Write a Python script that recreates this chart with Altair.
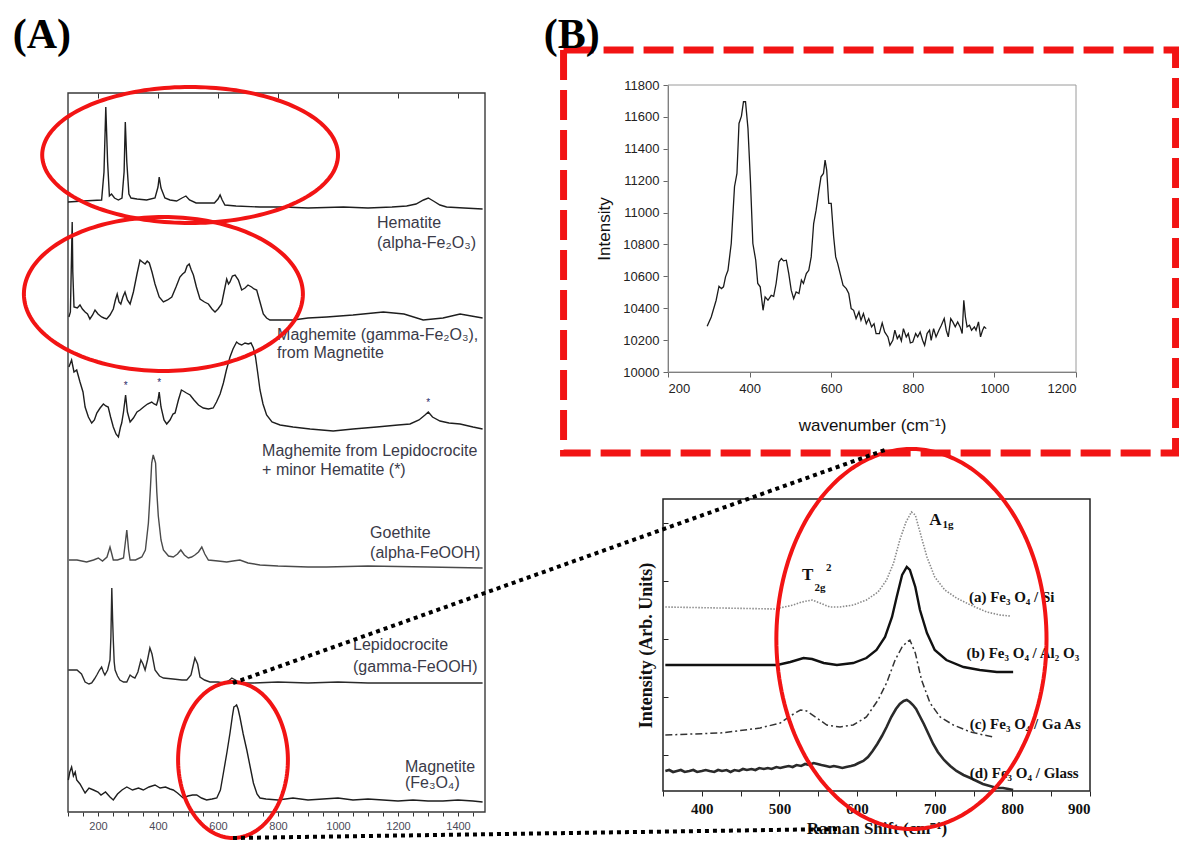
import altair as alt
import numpy as np
import pandas as pd

W, H = 1179, 841

# ---------------------------------------------------------------- data
# Panel (A): Raman shift (cm-1) vs stacked intensity (arbitrary units)
hem_wn = [100, 150, 212, 220, 226, 232, 238, 245, 255, 268, 280, 287, 291, 296, 303, 310, 330, 362, 390, 400,
          404, 410, 423, 440, 462, 480, 493, 505, 527, 560, 588, 600, 607, 614, 623, 660, 740, 820, 900, 1018,
          1100, 1180, 1229, 1260, 1285, 1301, 1318, 1340, 1362, 1420, 1482]
hem_y = [610, 611, 612, 640, 705, 650, 616, 618, 614, 612, 614, 640, 690, 650, 618, 614, 613, 612, 614, 625,
         635, 624, 614, 612, 611, 614, 616, 612, 609, 609, 609, 613, 617, 612, 607, 606, 605, 605, 604, 605,
         604, 605, 606, 608, 612, 614, 611, 607, 605, 604, 603]

mgm_wn = [103, 108, 112, 114, 116, 120, 131, 140, 148, 157, 165, 173, 182, 190, 200, 212, 220, 229, 240, 251,
          258, 264, 270, 276, 283, 290, 298, 307, 318, 330, 340, 348, 357, 364, 371, 380, 390, 404, 418, 432,
          446, 460, 473, 482, 490, 497, 504, 511, 518, 528, 540, 555, 568, 580, 590, 600, 612, 620, 629, 635,
          640, 648, 657, 668, 679, 690, 700, 712, 720, 729, 740, 751, 762, 773, 800, 851, 900, 962, 1050, 1151,
          1220, 1284, 1350, 1407, 1482]
mgm_y = [495, 500, 560, 590, 540, 505, 504, 507, 503, 500, 498, 493, 497, 502, 498, 495, 494, 493, 497, 503,
         512, 518, 510, 508, 515, 520, 512, 508, 520, 538, 552, 550, 548, 551, 549, 540, 528, 515, 510, 512,
         515, 525, 535, 538, 540, 546, 548, 542, 537, 525, 513, 510, 508, 503, 500, 503, 508, 520, 533, 528,
         530, 536, 537, 532, 522, 524, 527, 525, 523, 522, 510, 498, 494, 492, 492, 492, 494, 495, 497, 500,
         498, 492, 494, 498, 494]

mgl_wn = [103, 112, 120, 129, 140, 150, 157, 168, 179, 188, 196, 207, 218, 226, 234, 242, 251, 260, 268, 275,
          279, 285, 292, 298, 307, 318, 330, 340, 352, 365, 379, 387, 395, 400, 404, 410, 420, 429, 440, 450,
          457, 468, 478, 484, 495, 507, 520, 535, 551, 568, 584, 595, 607, 618, 628, 640, 650, 662, 670, 679,
          690, 701, 710, 718, 725, 732, 740, 750, 762, 780, 807, 850, 907, 984, 1050, 1129, 1200, 1240, 1270,
          1290, 1301, 1315, 1340, 1370, 1407, 1450, 1482]
mgl_y = [445, 452, 440, 442, 430, 420, 405, 395, 389, 392, 399, 404, 408, 406, 405, 395, 385, 378, 375, 385,
         389, 400, 417, 400, 390, 394, 400, 402, 405, 408, 410, 408, 407, 412, 420, 405, 392, 388, 392, 398,
         399, 412, 422, 421, 419, 417, 412, 407, 404, 403, 404, 410, 418, 429, 442, 455, 463, 470, 468, 467,
         469, 468, 469, 464, 455, 440, 422, 408, 397, 390, 387, 385, 383, 381, 383, 385, 387, 388, 392,
         397, 400, 395, 391, 389, 388, 385, 383]

goe_wn = [103, 130, 162, 185, 201, 215, 230, 240, 246, 251, 265, 285, 296, 302, 307, 325, 346, 358, 368, 374,
          379, 384, 389, 392, 396, 401, 410, 418, 435, 451, 465, 476, 488, 501, 512, 523, 535, 546, 556, 568,
          600, 629, 650, 673, 700, 740, 800, 900, 962, 1100, 1300, 1482]
goe_y = [252, 252, 250, 252, 254, 251, 255, 265, 258, 252, 252, 254, 282, 262, 252, 252, 255, 262, 289, 320,
         349, 357, 352, 349, 320, 296, 272, 262, 256, 255, 258, 262, 257, 254, 255, 257, 260, 265, 258, 252,
         251, 250, 251, 252, 249, 247, 246, 245, 245, 246, 245, 244]

lep_wn = [101, 130, 145, 157, 170, 179, 188, 196, 205, 212, 218, 223, 232, 240, 243, 246, 249, 251, 254, 257,
          265, 273, 285, 296, 307, 315, 323, 333, 343, 350, 357, 365, 373, 380, 390, 405, 418, 450, 480, 496,
          510, 523, 532, 540, 555, 573, 600, 618, 635, 646, 658, 673, 720, 800, 900, 1000, 1100, 1200, 1300,
          1400, 1482]
lep_y = [142, 142, 138, 130, 128, 129, 133, 137, 142, 145, 140, 137, 142, 152, 175, 224, 190, 172, 150, 142,
         136, 132, 130, 130, 137, 135, 134, 140, 152, 148, 142, 152, 164, 158, 142, 136, 134, 133, 132, 132,
         137, 154, 148, 135, 132, 130, 130, 129, 131, 134, 132, 129, 129, 130, 129, 130, 129, 129, 129,
         129, 129]

mag_wn = [101, 106, 112, 118, 124, 129, 140, 157, 170, 185, 200, 210, 225, 240, 251, 265, 280, 296, 315, 335,
          351, 370, 390, 407, 425, 440, 451, 465, 484, 500, 515, 529, 545, 562, 580, 596, 608, 618, 630, 640,
          648, 653, 658, 662, 667, 673, 684, 696, 708, 718, 730, 740, 760, 800, 850, 900, 950, 1000, 1050, 1100,
          1150, 1200, 1250, 1300, 1350, 1400, 1450, 1482]
mag_y = [32, 40, 45, 36, 40, 32, 28, 19, 24, 22, 20, 17, 20, 15, 12, 18, 22, 25, 22, 24,
         22, 25, 27, 24, 25, 23, 22, 19, 14, 16, 17, 17, 14, 12, 13, 14, 22, 39, 60, 79,
         96, 105, 106, 107, 103, 95, 78, 62, 44, 29, 18, 14, 13, 12, 14, 12, 13, 14, 12, 13,
         12, 11, 12, 11, 11, 12, 11, 10]

A_labels = [("Hematite", 1130, 589), ("(alpha-Fe\u2082O\u2083)", 1130, 569),
            ("Maghemite (gamma-Fe\u2082O\u2083),", 797, 477), ("from Magnetite", 797, 459),
            ("Maghemite from Lepidocrocite", 747, 361), ("+ minor Hematite (*)", 747, 342),
            ("Goethite", 1107, 279), ("(alpha-FeOOH)", 1107, 259),
            ("Lepidocrocite", 1050, 167), ("(gamma-FeOOH)", 1050, 145),
            ("Magnetite", 1223, 45), ("(Fe\u2083O\u2084)", 1223, 29)]
A_stars = [(292, 426), (404, 429), (1301, 409)]

# Panel (B) top: wavenumber vs intensity
bt_wn = [296, 306, 318, 325, 331, 336, 341, 347, 355, 363, 369, 374, 380, 385, 390, 396, 402, 408, 415, 420,
         426, 433, 438, 445, 453, 459, 465, 472, 478, 483, 490, 496, 502, 508, 514, 521, 527, 532, 539, 545,
         551, 557, 563, 570, 575, 581, 585, 589, 594, 600, 606, 611, 616, 622, 629, 637, 643, 649, 655, 661,
         668, 673, 679, 686, 692, 699, 705, 710, 718, 725, 731, 739, 744, 751, 756, 762, 767, 772, 777, 784,
         789, 794, 800, 807, 812, 818, 824, 829, 835, 841, 845, 851, 857, 864, 870, 877, 882, 887, 893, 898,
         904, 910, 916, 921, 925, 929, 933, 939, 944, 951, 955, 961, 966, 971, 975, 980]
bt_y = [10287, 10345, 10450, 10538, 10523, 10534, 10597, 10638, 10806, 11162, 11245, 11559, 11605, 11695,
        11695, 11528, 11203, 10806, 10701, 10555, 10534, 10387, 10471, 10450, 10481, 10475, 10555, 10691,
        10712, 10697, 10701, 10617, 10513, 10460, 10502, 10492, 10576, 10555, 10617, 10638, 10722, 10931,
        11015, 11141, 11224, 11245, 11329, 11266, 11057, 11057, 10848, 10722, 10680, 10617, 10544, 10523,
        10492, 10398, 10387, 10335, 10377, 10324, 10366, 10303, 10335, 10283, 10303, 10241, 10241, 10308,
        10251, 10220, 10168, 10199, 10262, 10209, 10230, 10195, 10272, 10220, 10241, 10182, 10188, 10241,
        10220, 10251, 10199, 10168, 10241, 10262, 10199, 10272, 10220, 10262, 10293, 10335, 10262, 10220,
        10335, 10314, 10283, 10314, 10283, 10241, 10450, 10345, 10283, 10293, 10262, 10283, 10262, 10314,
        10220, 10262, 10283, 10272]

# Panel (B) bottom: Raman shift vs offset intensity (arb. units)
sa_wn = [353, 424, 494, 518, 529, 542, 552, 565, 578, 595, 612, 627, 638, 647, 655, 663, 670, 675, 681, 690,
         700, 713, 728, 746, 767, 784, 797]
sa_y = [184, 183, 182, 186, 189, 191, 188, 184, 184, 186, 191, 199, 211, 228, 251, 269, 279, 276, 259, 234,
        214, 201, 193, 186, 179, 176, 175]
sb_wn = [353, 424, 497, 514, 531, 542, 557, 574, 595, 612, 625, 636, 645, 651, 658, 664, 668, 675, 681, 690,
         700, 715, 737, 758, 780, 801]
sb_y = [126, 126, 126, 129, 133, 132, 128, 126, 128, 133, 141, 154, 174, 194, 216, 224, 221, 204, 181, 158,
        141, 131, 124, 121, 119, 119]
sc_wn = [353, 424, 475, 501, 516, 527, 535, 548, 561, 578, 595, 612, 627, 638, 649, 658, 664, 668, 675, 683,
         694, 707, 724, 746, 763, 776]
sc_y = [56, 58, 63, 68, 76, 81, 80, 73, 66, 64, 66, 74, 91, 108, 131, 144, 149, 151, 138, 111,
        88, 74, 66, 59, 56, 54]
sd_wn = [353, 358, 363, 368, 373, 378, 384, 389, 394, 400, 405, 410, 416, 421, 426, 432, 437, 442, 448, 453,
         458, 464, 469, 474, 480, 485, 490, 496, 501, 506, 512, 517, 522, 528, 533, 538, 544, 549, 554, 560,
         565, 570, 576, 581, 586, 592, 597, 602, 608, 614, 620, 626, 632, 638, 644, 650, 655, 660, 664, 668,
         672, 676, 680, 686, 692, 698, 704, 712, 720, 728, 737, 746, 754, 762, 771, 780, 788, 795, 801]
sd_y = [20, 21, 19, 20, 21, 19, 20, 21, 19, 20, 21, 20, 19, 21, 20, 21, 19, 21, 20, 22,
        21, 22, 21, 23, 22, 23, 22, 24, 23, 24, 25, 24, 26, 25, 27, 26, 28, 27, 26, 25,
        24, 25, 24, 23, 24, 25, 26, 28, 30, 34, 40, 47, 55, 64, 74, 82, 87, 90, 91, 89,
        86, 82, 76, 67, 57, 47, 39, 31, 25, 20, 16, 13, 10, 7, 5, 3, 3, 2, 1]
B_labels = [("(a)  Fe\u2083 O\u2084 / Si", 744, 194), ("(b)  Fe\u2083 O\u2084 / Al\u2082 O\u2083", 741, 138),
            ("(c) Fe\u2083 O\u2084 / Ga As", 745, 67), ("(d) Fe\u2083 O\u2084 / Glass", 745, 18)]

# ---------------------------------------------------------------- layout (pixel ranges)
A_XD, A_XR, A_YD, A_YR = [100, 1490], [68, 485], [0, 719], [812, 93]
T_XD, T_XR, T_YD, T_YR = [200, 1200], [668, 1076], [10000, 11800], [372, 85]
B_XD, B_XR, B_YD, B_YR = [350, 900], [663, 1090], [0, 292], [791, 499]


def sc(d, r):
    return alt.Scale(domain=d, range=r, nice=False, zero=False)


AX, AY = sc(A_XD, A_XR), sc(A_YD, A_YR)
TX, TY = sc(T_XD, T_XR), sc(T_YD, T_YR)
BX, BY = sc(B_XD, B_XR), sc(B_YD, B_YR)

SANS, SERIF = "Liberation Sans", "Liberation Serif"
RED = "#f21414"
layers = []


def xy(xs, ys, xf="x", yf="y", xaxis=None, yaxis=None):
    return dict(x=alt.X(f"{xf}:Q", scale=xs, axis=xaxis), y=alt.Y(f"{yf}:Q", scale=ys, axis=yaxis))


def frame(xd, yd):
    return pd.DataFrame({"x": [xd[0]], "x2": [xd[1]], "y": [yd[0]], "y2": [yd[1]]})


def ellipse_df(cx, cy, rx, ry):
    t = np.linspace(0, 2 * np.pi, 181)
    return pd.DataFrame({"x": cx + rx * np.cos(t), "y": cy + ry * np.sin(t), "i": np.arange(len(t))})


# ---------------- Panel A
layers.append(alt.Chart(frame(A_XD, A_YD)).mark_rect(fill="transparent", stroke="#3a3a3a", strokeWidth=1.4).encode(
    **xy(AX, AY, xaxis=alt.Axis(orient="bottom", offset=A_YR[0] - H, values=list(range(100, 1500, 50)),
                                labelExpr="datum.value % 200 == 0 ? datum.value : ''", tickSize=4, domain=False,
                                tickColor="#333", labelFont=SANS, labelFontSize=11, labelColor="#4a4a58",
                                labelPadding=4, labelOverlap=False, title=None, grid=False)),
    x2="x2:Q", y2="y2:Q"))

spectraA = [(hem_wn, hem_y, "#1e1e1e"), (mgm_wn, mgm_y, "#1e1e1e"), (mgl_wn, mgl_y, "#1e1e1e"),
            (goe_wn, goe_y, "#4a4a4a"), (lep_wn, lep_y, "#2a2a2a"), (mag_wn, mag_y, "#1e1e1e")]
for k, (wn, yy, col) in enumerate(spectraA):
    xa = None
    if k == 0:
        xa = alt.Axis(orient="bottom", offset=A_YR[1] - H, values=list(range(200, 1500, 200)), labels=False,
                      domain=False, tickSize=5, tickColor="#333", title=None, grid=False)
    layers.append(alt.Chart(pd.DataFrame({"x": wn, "y": yy})).mark_line(color=col, strokeWidth=1.4).encode(
        **xy(AX, AY, xaxis=xa)))

layers.append(alt.Chart(pd.DataFrame(A_labels, columns=["t", "x", "y"])).mark_text(
    align="left", baseline="middle", font=SANS, fontSize=16, color="#3a3a48").encode(
    **xy(AX, AY), text="t:N"))
layers.append(alt.Chart(pd.DataFrame(A_stars, columns=["x", "y"])).mark_text(
    text="*", baseline="middle", font=SANS, fontSize=10, color="#2a2a6a").encode(**xy(AX, AY)))
layers.append(alt.Chart(pd.DataFrame({"x": [13], "y": [777], "t": ["(A)"]})).mark_text(
    font=SERIF, fontWeight="bold", fontSize=42, color="#000", baseline="middle").encode(**xy(AX, AY), text="t:N"))

# ---------------- Panel B top
layers.append(alt.Chart(frame(T_XD, T_YD)).mark_rect(fill="transparent", stroke="#9a9a9a", strokeWidth=1).encode(
    **xy(TX, TY,
         xaxis=alt.Axis(orient="bottom", offset=T_YR[0] - H, values=list(range(200, 1201, 200)), format="d",
                        tickSize=5, domainColor="#666", tickColor="#666", labelFont=SANS, labelFontSize=13,
                        labelColor="#222", labelPadding=5, title="wavenumber (cm\u207b\u00b9)", titleFont=SANS,
                        titleFontSize=17, titleFontWeight="normal", titleColor="#111", titlePadding=22, grid=False),
         yaxis=alt.Axis(orient="left", offset=-T_XR[0], values=list(range(10000, 11801, 200)), format="d",
                        tickSize=5, domainColor="#666", tickColor="#666", labelFont=SANS, labelFontSize=13,
                        labelColor="#222", labelPadding=4, title="Intensity", titleFont=SANS, titleFontSize=17,
                        titleFontWeight="normal", titleColor="#111", titlePadding=9, grid=False)),
    x2="x2:Q", y2="y2:Q"))
layers.append(alt.Chart(pd.DataFrame({"x": bt_wn, "y": bt_y})).mark_line(color="#1a1a1a", strokeWidth=1.3).encode(
    **xy(TX, TY)))

# ---------------- Panel B bottom
layers.append(alt.Chart(frame(B_XD, B_YD)).mark_rect(fill="transparent", stroke="#222", strokeWidth=1.5).encode(
    **xy(BX, BY,
         xaxis=alt.Axis(orient="bottom", offset=B_YR[0] - H, values=list(range(350, 901, 50)),
                        labelExpr="datum.value % 100 == 0 ? datum.value : ''", tickSize=5, domain=False,
                        tickColor="#222", labelFont=SERIF, labelFontWeight="bold", labelFontSize=15,
                        labelColor="#111", labelPadding=5, labelOverlap=False, title="Raman Shift (cm\u207b\u00b9)",
                        titleFont=SERIF, titleFontSize=17, titleFontWeight="bold", titleColor="#111",
                        titlePadding=4, grid=False),
         yaxis=alt.Axis(orient="right", offset=B_XR[0] - W, values=[36, 94, 152, 210, 268], labels=False,
                        domain=False, tickSize=5, tickColor="#222", title=None, grid=False)),
    x2="x2:Q", y2="y2:Q"))
layers.append(alt.Chart(frame(B_XD, B_YD)).mark_rect(fill="transparent", strokeWidth=0).encode(
    **xy(BX, BY, yaxis=alt.Axis(orient="left", offset=-B_XR[0], labels=False, ticks=False, domain=False,
                                title="Intensity (Arb. Units)", titleFont=SERIF, titleFontSize=18,
                                titleFontWeight="bold", titleColor="#111", titlePadding=8, grid=False)),
    x2="x2:Q", y2="y2:Q"))

styles = [(sa_wn, sa_y, dict(color="#8a8a8a", strokeWidth=1.6, strokeDash=[1.5, 1.5])),
          (sb_wn, sb_y, dict(color="#111", strokeWidth=2.4)),
          (sc_wn, sc_y, dict(color="#333", strokeWidth=1.5, strokeDash=[7, 3, 2, 3])),
          (sd_wn, sd_y, dict(color="#2a2a2a", strokeWidth=2.6))]
for wn, yy, st in styles:
    layers.append(alt.Chart(pd.DataFrame({"x": wn, "y": yy})).mark_line(**st).encode(**xy(BX, BY)))

layers.append(alt.Chart(pd.DataFrame(B_labels, columns=["t", "x", "y"])).mark_text(
    align="left", baseline="middle", font=SERIF, fontWeight="bold", fontSize=15, color="#111").encode(
    **xy(BX, BY), text="t:N"))
peak_lab = pd.DataFrame({"t": ["A", "1g", "T", "2g", "2"], "x": [693, 710, 529, 545, 560],
                         "y": [271, 266, 216, 203, 223], "s": [17, 11, 17, 11, 11]})
layers.append(alt.Chart(peak_lab).mark_text(align="left", baseline="middle", font=SERIF, fontWeight="bold",
                                            color="#111").encode(
    **xy(BX, BY), text="t:N", size=alt.Size("s:Q", scale=None, legend=None)))

# ---------------- decorations (red ellipses, dashed box, dotted connectors)
for (cx, cy, rx, ry) in [(507, 657, 493, 68), (418, 518, 465, 77), (650, 52, 183, 78)]:
    layers.append(alt.Chart(ellipse_df(cx, cy, rx, ry)).mark_line(color=RED, strokeWidth=4).encode(
        **xy(AX, AY), order="i:Q"))
layers.append(alt.Chart(ellipse_df(670, 152, 174, 190)).mark_line(color=RED, strokeWidth=4).encode(
    **xy(BX, BY), order="i:Q"))

layers.append(alt.Chart(pd.DataFrame({"x": [-56], "x2": [1444], "y": [9492], "y2": [12020]})).mark_rect(
    fill="transparent", stroke=RED, strokeWidth=7, strokeDash=[30, 10]).encode(**xy(TX, TY), x2="x2:Q", y2="y2:Q"))
layers.append(alt.Chart(pd.DataFrame({"x": [-36], "y": [12114], "t": ["(B)"]})).mark_text(
    font=SERIF, fontWeight="bold", fontSize=42, color="#000", baseline="middle").encode(**xy(TX, TY), text="t:N"))

conn = pd.DataFrame({"x": [650, 2823, 650, 2670], "y": [129, 362, -26, -17], "g": ["a", "a", "b", "b"]})
layers.append(alt.Chart(conn).mark_line(color="#000", strokeWidth=4, strokeDash=[4, 4], strokeCap="butt").encode(
    **xy(AX, AY), detail="g:N"))

chart = alt.layer(*layers).resolve_scale(x="independent", y="independent").properties(
    width=W, height=H, autosize=alt.AutoSizeParams(type="none"), padding=0, background="white"
).configure_view(strokeWidth=0).configure_axis(grid=False)

chart.save("out.html", embed_options={"renderer": "svg", "actions": False})
